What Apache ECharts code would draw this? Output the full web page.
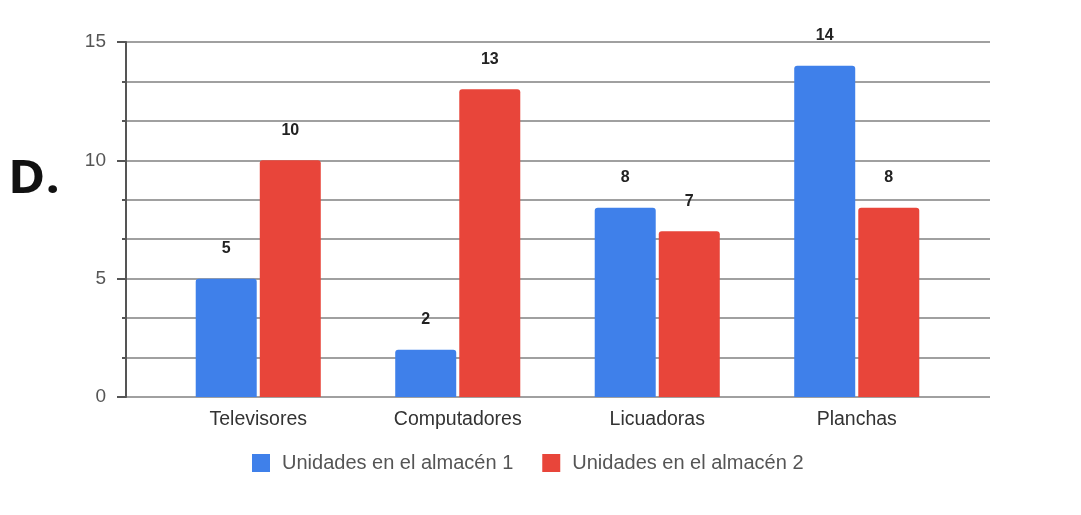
<!DOCTYPE html>
<html>
<head>
<meta charset="utf-8">
<script src="https://cdn.jsdelivr.net/npm/echarts@6/dist/echarts.min.js"></script>
<style>
  html, body { margin: 0; padding: 0; background: #fff; }
  #chart { width: 1081px; height: 515px; }
</style>
</head>
<body>
<div id="chart"></div>
<script>
const categories = ['Televisores', 'Computadores', 'Licuadoras', 'Planchas'];
const seriesNames = ['Unidades en el almacén 1', 'Unidades en el almacén 2'];
const almacen1 = [5, 2, 8, 14];
const almacen2 = [10, 13, 7, 8];
const yMin = 0, yMax = 15, yStep = 5;

const chart = echarts.init(document.getElementById('chart'));
const font = 'Liberation Sans';
const labelStyle = { show: true, position: 'top', distance: 22, color: '#222', fontWeight: 'bold', fontSize: 16, fontFamily: font };

chart.setOption({
  backgroundColor: '#fff',
  animation: false,
  graphic: [{
    type: 'text', left: 8, top: 157, scaleX: 1.1,
    style: { text: 'D.', fontSize: 46, fontWeight: 'bold', fontFamily: 'Open Sans', fill: '#111' }
  }],
  legend: {
    data: seriesNames,
    left: 247, top: 448,
    icon: 'rect', itemWidth: 18, itemHeight: 18, itemGap: 29,
    textStyle: { fontSize: 20, color: '#555', fontFamily: font, padding: [0, 0, 0, 7] }
  },
  grid: [
    { left: 126, right: 91, top: 42, bottom: 118 },
    { left: 158.5, right: 124.5, top: 42, bottom: 118 }
  ],
  xAxis: [
    { gridIndex: 0, type: 'value', show: false },
    {
      gridIndex: 1, type: 'category', data: categories,
      axisLine: { show: false }, axisTick: { show: false },
      axisLabel: { fontSize: 19.5, color: '#333', margin: 13, fontFamily: font }
    }
  ],
  yAxis: [
    {
      gridIndex: 0, type: 'value', min: yMin, max: yMax, interval: yStep,
      axisLine: { show: true, lineStyle: { color: '#555', width: 2 } },
      axisTick: { show: true, length: 9, lineStyle: { color: '#555', width: 2 } },
      minorTick: { show: true, splitNumber: 3, length: 4, lineStyle: { color: '#555', width: 2 } },
      splitLine: { lineStyle: { color: '#808080', width: 1.6 } },
      minorSplitLine: { show: true, lineStyle: { color: '#808080', width: 1.6 } },
      axisLabel: { fontSize: 19, color: '#555', margin: 20, fontFamily: font }
    },
    { gridIndex: 1, type: 'value', min: yMin, max: yMax, show: false, splitLine: { show: false } }
  ],
  series: [
    {
      name: seriesNames[0], type: 'bar', xAxisIndex: 1, yAxisIndex: 1, data: almacen1,
      barWidth: 61, barGap: '5%',
      itemStyle: { color: '#3f80ea', borderRadius: [3, 3, 0, 0] },
      label: labelStyle
    },
    {
      name: seriesNames[1], type: 'bar', xAxisIndex: 1, yAxisIndex: 1, data: almacen2,
      barWidth: 61,
      itemStyle: { color: '#e8453a', borderRadius: [3, 3, 0, 0] },
      label: labelStyle
    }
  ]
});
window.addEventListener('resize', () => chart.resize());
</script>
</body>
</html>
